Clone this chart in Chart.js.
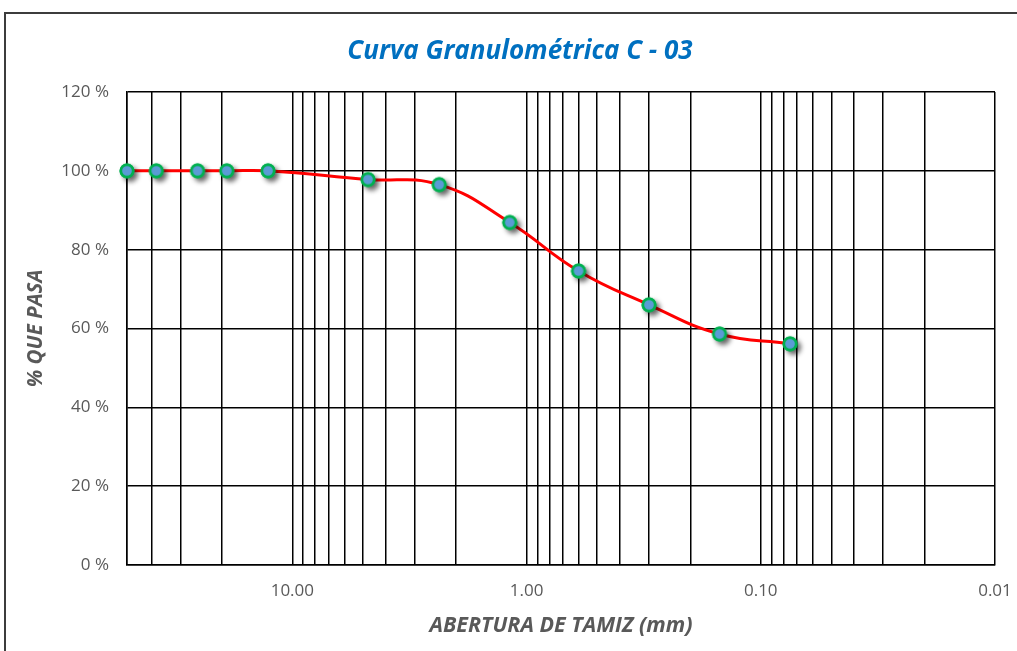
<!DOCTYPE html>
<html><head><meta charset="utf-8">
<script src="https://cdn.jsdelivr.net/npm/chart.js@4.4.1/dist/chart.umd.min.js"></script>
<style>
html,body{margin:0;padding:0;background:#fff;overflow:hidden;}
#wrap{position:relative;width:1017px;height:651px;}
#frame{position:absolute;left:4px;top:12px;width:1100px;height:700px;border:2px solid #3c3c3c;box-sizing:border-box;pointer-events:none;}
canvas{position:absolute;left:0;top:0;}
</style></head><body>
<div id="wrap"><canvas id="c" width="1017" height="651"></canvas><div id="frame"></div></div>
<script>
// ---- data ----
const sieveOpenings = [50.8, 38.1, 25.4, 19.05, 12.7, 4.75, 2.36, 1.18, 0.6, 0.3, 0.15, 0.075];
const percentPassing = [100, 100, 100, 100, 100, 97.8, 96.5, 86.9, 74.6, 66.0, 58.6, 56.1];
const xTickValues = [10, 1, 0.1, 0.01];
const xTickLabels = ['10.00', '1.00', '0.10', '0.01'];
const yTickValues = [0, 20, 40, 60, 80, 100, 120];
const yTickLabels = ['0 %', '20 %', '40 %', '60 %', '80 %', '100 %', '120 %'];
const chartTitle = 'Curva Granulométrica C - 03';
const xTitle = 'ABERTURA DE TAMIZ (mm)';
const yTitle = '% QUE PASA';
const xMin = 0.01, xMax = 50.8;

// ---- marker image with drop shadow ----
function makeMarker() {
  const c = document.createElement('canvas');
  c.width = 36; c.height = 36;
  const g = c.getContext('2d');
  g.save();
  g.shadowColor = 'rgba(0,0,0,0.6)';
  g.shadowBlur = 5;
  g.shadowOffsetX = 3.5;
  g.shadowOffsetY = 3.5;
  g.beginPath(); g.arc(18, 18, 7.5, 0, Math.PI * 2);
  g.fillStyle = '#00B050'; g.fill();
  g.restore();
  g.beginPath(); g.arc(18, 18, 6.2, 0, Math.PI * 2);
  g.fillStyle = '#5B9BD5'; g.fill();
  g.lineWidth = 2.7; g.strokeStyle = '#00B050'; g.stroke();
  return c;
}

function findLabel(v, values, labels) {
  for (let i = 0; i < values.length; i++) {
    if (Math.abs(v - values[i]) <= Math.abs(values[i]) * 1e-6) return labels[i];
  }
  return '';
}
function hiddenGrid(v) {
  const e = Math.floor(Math.log10(v) + 1e-9);
  const r = v / Math.pow(10, e);
  if (Math.abs(r - 1.5) < 1e-6) return true;
  if (v !== xMax && Math.abs(v - xMax) / xMax < 0.05) return true;
  return false;
}

const titlePlugin = {
  id: 'customTitle',
  afterDraw(chart) {
    const ctx = chart.ctx;
    ctx.save();
    ctx.font = 'italic bold 26px "Open Sans"';
    ctx.fillStyle = '#0070C0';
    ctx.textAlign = 'center';
    ctx.textBaseline = 'middle';
    ctx.fillText(chartTitle, 520, 52);
    ctx.restore();
  }
};

const axisFontFamily = '"Open Sans"';
new Chart(document.getElementById('c'), {
  type: 'line',
  data: {
    datasets: [{
      data: sieveOpenings.map((x, i) => ({x: x, y: percentPassing[i]})),
      borderColor: '#FF0000',
      borderWidth: 3,
      tension: 0.45,
      fill: false,
      clip: false,
      pointStyle: makeMarker(),
      pointRadius: 7
    }]
  },
  plugins: [titlePlugin],
  options: {
    responsive: false,
    animation: false,
    devicePixelRatio: 1,
    layout: {padding: {top: 92, right: 22, bottom: 0, left: 0}},
    plugins: {legend: {display: false}, tooltip: {enabled: false}, title: {display: false}},
    scales: {
      x: {
        type: 'logarithmic',
        reverse: true,
        min: xMin,
        max: xMax,
        afterFit(s) { s.height = 86; s.paddingLeft = 0; s.paddingRight = 0; },
        border: {display: true, color: '#000', width: 1.5},
        grid: {
          drawTicks: false,
          lineWidth: 1.5,
          color: (ctx) => (ctx.tick && hiddenGrid(ctx.tick.value)) ? 'rgba(0,0,0,0)' : '#000'
        },
        ticks: {
          autoSkip: false,
          maxRotation: 0,
          padding: 16,
          color: '#595959',
          font: {family: axisFontFamily, size: 17},
          callback: (v) => findLabel(v, xTickValues, xTickLabels)
        },
        title: {
          display: true,
          text: xTitle,
          color: '#595959',
          font: {family: axisFontFamily, size: 21.5, weight: 'bold', style: 'italic'},
          padding: {top: 0, bottom: 12}
        }
      },
      y: {
        min: 0,
        max: 120,
        afterFit(s) { s.width = 127; },
        afterBuildTicks(s) { s.ticks = yTickValues.map(v => ({value: v})); },
        border: {display: true, color: '#000', width: 1.5},
        grid: {drawTicks: false, lineWidth: 1.5, color: '#000'},
        ticks: {
          padding: 18,
          color: '#595959',
          font: {family: axisFontFamily, size: 17},
          callback: (v) => findLabel(v, yTickValues, yTickLabels)
        },
        title: {
          display: true,
          text: yTitle,
          color: '#595959',
          font: {family: axisFontFamily, size: 20.5, weight: 'bold', style: 'italic'},
          padding: {top: 24, bottom: 0}
        }
      }
    }
  }
});
</script>
</body></html>
